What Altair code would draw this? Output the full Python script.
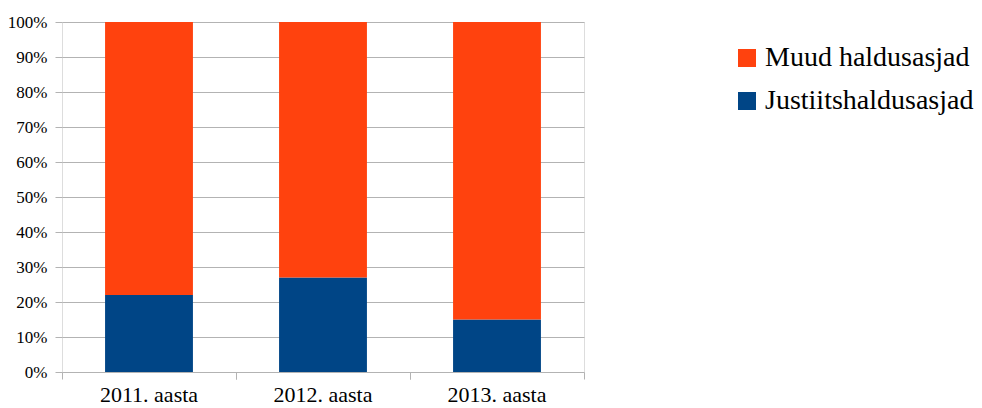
import altair as alt
import pandas as pd

years = ["2011. aasta", "2012. aasta", "2013. aasta"]
series = ["Muud haldusasjad", "Justiitshaldusasjad"]
justiits = [22, 27, 15]
muud = [78, 73, 85]
colors = ["#ff420e", "#004586"]

rows = []
for i, y in enumerate(years):
    rows.append({"aasta": y, "liik": series[1], "v": justiits[i], "o": 0})
    rows.append({"aasta": y, "liik": series[0], "v": muud[i], "o": 1})
df = pd.DataFrame(rows)

FONT = "Liberation Serif"
GRID = "#b3b3b3"

xscale = alt.Scale(domain=years, paddingInner=0, paddingOuter=0)

bars = alt.Chart(df).mark_bar(width=alt.RelativeBandSize(0.505)).encode(
    x=alt.X("aasta:N", scale=xscale, sort=years, title=None,
            axis=alt.Axis(orient="bottom", labelAngle=0, ticks=False, domain=False,
                          grid=False, labelFontSize=22, labelFont=FONT,
                          labelColor="#000000", labelPadding=12)),
    y=alt.Y("v:Q", stack="normalize", title=None,
            axis=alt.Axis(format=".0%", tickCount=10, grid=True, gridColor=GRID,
                          domain=False, tickColor=GRID, tickSize=7,
                          labelFontSize=17, labelFont=FONT, labelColor="#000000",
                          labelPadding=8)),
    color=alt.Color("liik:N", scale=alt.Scale(domain=series, range=colors),
                    legend=alt.Legend(title=None, orient="none", legendX=671, legendY=22,
                                      labelFontSize=28, labelFont=FONT, labelColor="#000000",
                                      labelLimit=400,
                                      symbolType="square", symbolSize=324,
                                      symbolStrokeWidth=0, labelOffset=4,
                                      rowPadding=15, padding=0)),
    order=alt.Order("o:Q"),
)

ticks0 = alt.Chart(df).mark_point(opacity=0).encode(
    x=alt.X("aasta:N", scale=xscale, sort=years, title=None,
            axis=alt.Axis(orient="bottom", labels=False, domain=False, grid=False,
                          ticks=True, tickSize=7, tickColor=GRID, bandPosition=0)),
)
ticks1 = alt.Chart(df).mark_point(opacity=0).encode(
    x=alt.X("aasta:N", scale=xscale, sort=years, title=None,
            axis=alt.Axis(orient="bottom", labels=False, domain=False, grid=False,
                          ticks=True, tickSize=7, tickColor=GRID, bandPosition=1)),
)

chart = alt.layer(bars, ticks0, ticks1).resolve_axis(x="independent").properties(
    width=522, height=350,
    autosize=alt.AutoSizeParams(type="none"),
    padding={"left": 54, "top": 14, "right": 390, "bottom": 36},
).configure_view(stroke=GRID, strokeWidth=1).configure(background="#ffffff")

chart.save("out.html", embed_options={"renderer": "svg", "actions": False})
